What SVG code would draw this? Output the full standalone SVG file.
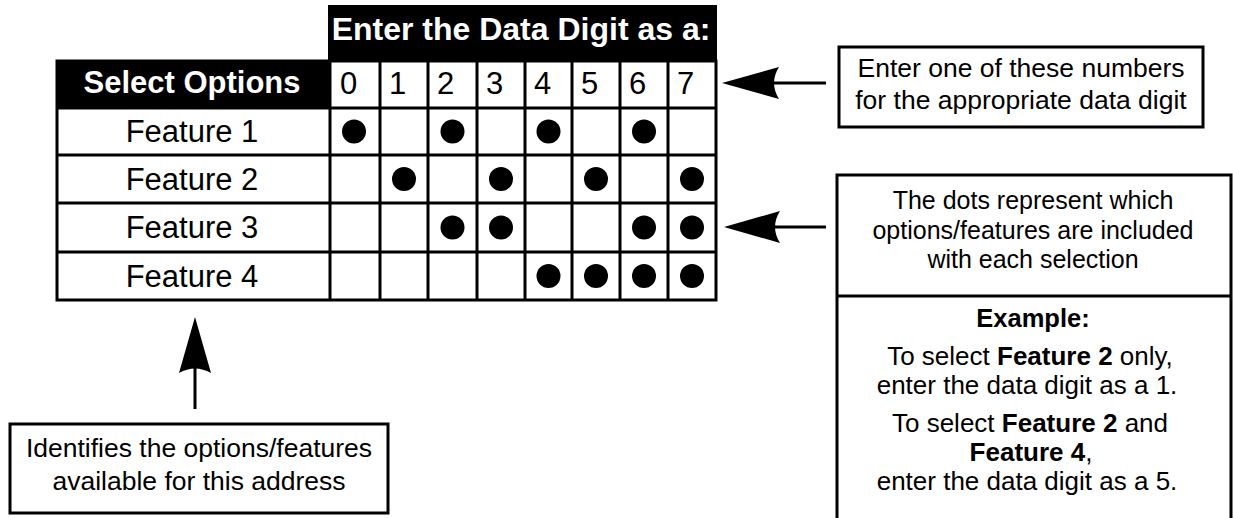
<svg xmlns="http://www.w3.org/2000/svg" width="1233" height="518" viewBox="0 0 1233 518">
<style>
text{font-family:"Liberation Sans",Arial,sans-serif;fill:#000}
.b{font-weight:bold}
.w{fill:#fff}
.tbl{font-size:31px}
.note{font-size:26.5px}
.note2{font-size:25px}
.ex{font-size:26px}
.grid{stroke:#000;stroke-width:3;fill:none}
.box{stroke:#000;stroke-width:3;fill:#fff}
.dot{fill:#000}
.conn{stroke:#000;stroke-width:3;fill:none}
.head{fill:#000}
</style>
<rect width="1233" height="518" fill="#fff"/>
<g id="table">
  <rect x="328" y="5" width="389" height="57" fill="#000"/>
  <text class="b w" x="521" y="40" font-size="32" text-anchor="middle">Enter the Data Digit as a:</text>
  <rect x="57" y="61" width="272" height="47" fill="#000"/>
  <text class="b w tbl" x="192" y="93" text-anchor="middle">Select Options</text>
  <rect class="grid" x="57" y="61" width="659" height="239"/>
  <path class="grid" d="M57,108H716M57,155H716M57,203H716M57,252H716M330,61V300M380,61V300M428,61V300M477,61V300M525,61V300M572,61V300M620,61V300M668,61V300"/>
  <g class="tbl">
    <text x="340" y="94">0</text>
    <text x="389" y="94">1</text>
    <text x="437" y="94">2</text>
    <text x="486" y="94">3</text>
    <text x="534" y="94">4</text>
    <text x="581" y="94">5</text>
    <text x="629" y="94">6</text>
    <text x="677" y="94">7</text>
    <text x="192" y="142" text-anchor="middle">Feature 1</text>
    <text x="192" y="190" text-anchor="middle">Feature 2</text>
    <text x="192" y="238" text-anchor="middle">Feature 3</text>
    <text x="192" y="287" text-anchor="middle">Feature 4</text>
  </g>
  <g class="dot">
    <circle cx="354" cy="131.5" r="12"/><circle cx="452.5" cy="131.5" r="12"/><circle cx="548.5" cy="131.5" r="12"/><circle cx="644" cy="131.5" r="12"/>
    <circle cx="404" cy="179" r="12"/><circle cx="501" cy="179" r="12"/><circle cx="596" cy="179" r="12"/><circle cx="692" cy="179" r="12"/>
    <circle cx="452.5" cy="227.5" r="12"/><circle cx="501" cy="227.5" r="12"/><circle cx="644" cy="227.5" r="12"/><circle cx="692" cy="227.5" r="12"/>
    <circle cx="548.5" cy="276" r="12"/><circle cx="596" cy="276" r="12"/><circle cx="644" cy="276" r="12"/><circle cx="692" cy="276" r="12"/>
  </g>
</g>
<g id="note-numbers">
  <rect class="box" x="839" y="47" width="364" height="80"/>
  <text class="note" x="1021" y="77" text-anchor="middle">Enter one of these numbers</text>
  <text class="note" x="1021" y="109" text-anchor="middle">for the appropriate data digit</text>
</g>
<g id="note-dots">
  <rect class="box" x="837" y="175" width="394" height="360"/>
  <line class="grid" x1="837" y1="296" x2="1231" y2="296"/>
  <text class="note2" x="1033" y="209" text-anchor="middle">The dots represent which</text>
  <text class="note2" x="1033" y="239" text-anchor="middle">options/features are included</text>
  <text class="note2" x="1033" y="268" text-anchor="middle">with each selection</text>
  <text class="b" x="1033" y="327" font-size="25.5" text-anchor="middle">Example:</text>
  <text class="ex" x="1030" y="365" text-anchor="middle">To select <tspan class="b">Feature 2</tspan> only,</text>
  <text class="ex" x="1027" y="394" text-anchor="middle">enter the data digit as a 1.</text>
  <text class="ex" x="1030" y="432" text-anchor="middle">To select <tspan class="b">Feature 2</tspan> and</text>
  <text class="ex" x="1031" y="461" text-anchor="middle"><tspan class="b">Feature 4</tspan>,</text>
  <text class="ex" x="1027" y="490" text-anchor="middle">enter the data digit as a 5.</text>
</g>
<g id="note-options">
  <rect class="box" x="10" y="424" width="378" height="89"/>
  <text class="note" x="199" y="457" text-anchor="middle">Identifies the options/features</text>
  <text class="note" x="199" y="490" text-anchor="middle">available for this address</text>
</g>
<g id="connectors">
  <line class="conn" x1="774" y1="83" x2="826" y2="83"/>
  <path class="head" d="M722,83L779,67Q769,83 779,99Z"/>
  <line class="conn" x1="775" y1="227" x2="826" y2="227"/>
  <path class="head" d="M724,227L780,211Q770,227 780,243Z"/>
  <line class="conn" x1="195" y1="367" x2="195" y2="409"/>
  <path class="head" d="M195,317L211,373Q195,364 179,373Z"/>
</g>
</svg>
